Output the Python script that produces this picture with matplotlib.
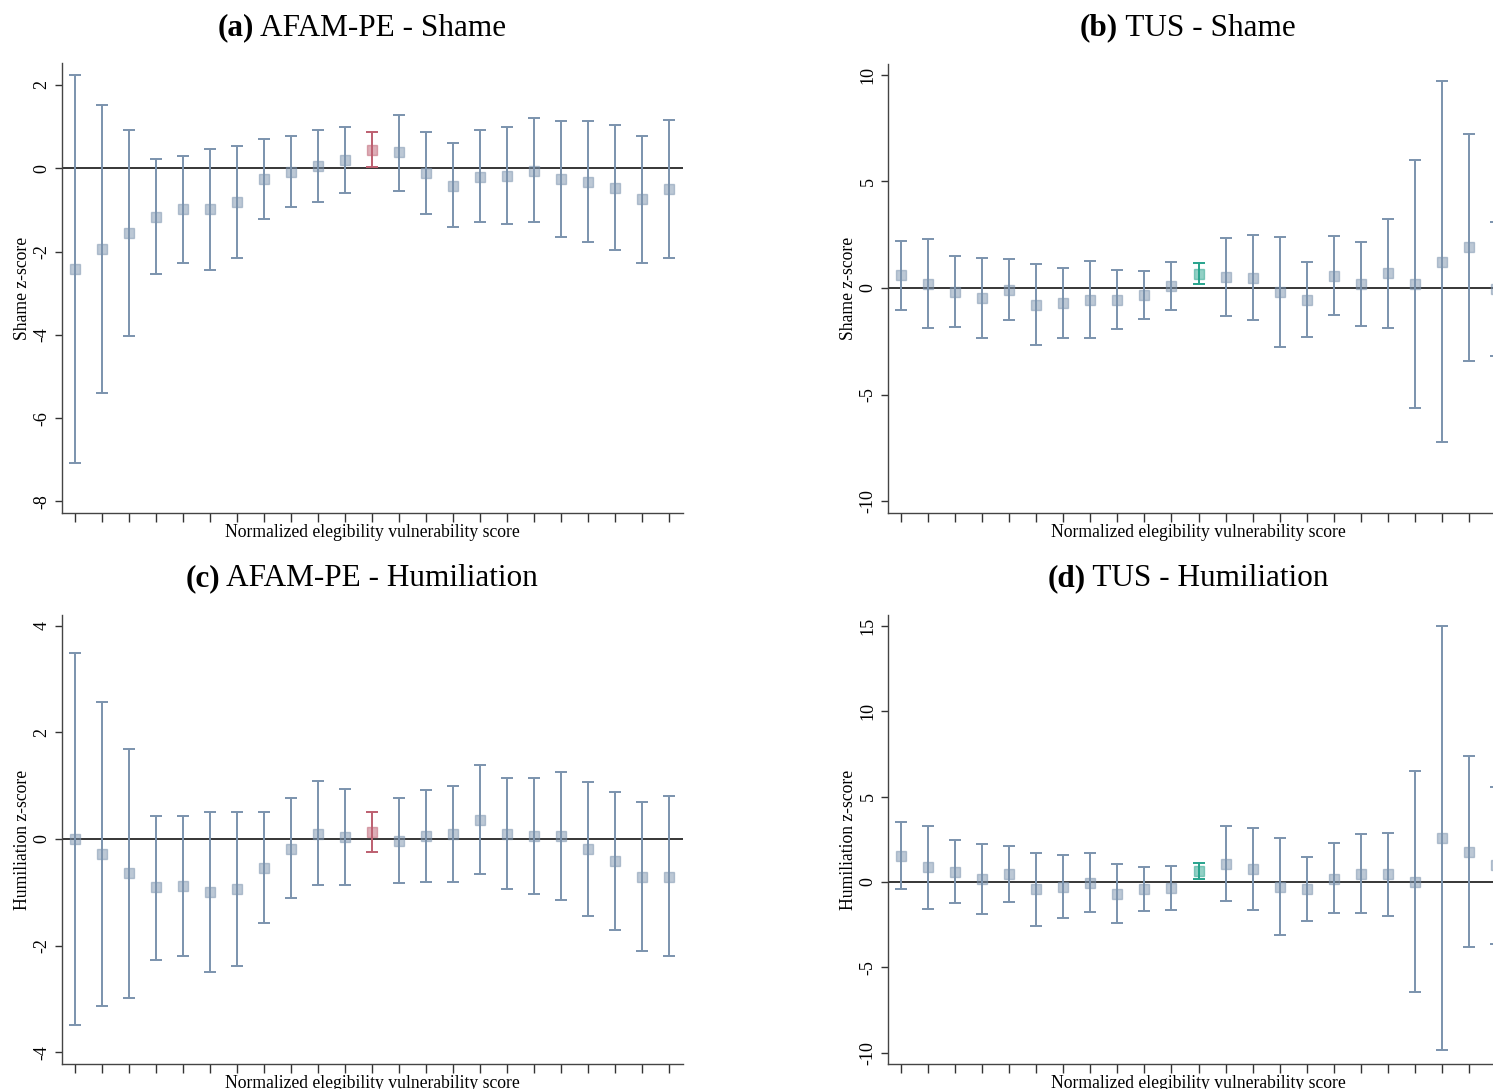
import numpy as np
import matplotlib
matplotlib.use("Agg")
from matplotlib import pyplot as plt

plt.rcParams['font.family'] = ['Liberation Serif', 'DejaVu Serif']

# bins of the normalized eligibility vulnerability score
bins = np.arange(1, 24)
ref_bin = 12  # bin with the reference estimate

# AFAM-PE - shame
afam_shame = [-2.41, -1.94, -1.55, -1.17, -0.99, -0.99, -0.81, -0.26, -0.09, 0.06, 0.20, 0.45,
              0.38, -0.11, -0.42, -0.20, -0.18, -0.06, -0.26, -0.33, -0.47, -0.75, -0.51]
afam_shame_lo = [-7.08, -5.40, -4.02, -2.55, -2.27, -2.44, -2.16, -1.22, -0.94, -0.82, -0.59, 0.04,
                 -0.54, -1.09, -1.42, -1.30, -1.35, -1.30, -1.64, -1.77, -1.96, -2.28, -2.16]
afam_shame_hi = [2.25, 1.52, 0.92, 0.22, 0.30, 0.46, 0.54, 0.71, 0.78, 0.93, 0.99, 0.86,
                 1.29, 0.86, 0.60, 0.91, 1.00, 1.21, 1.13, 1.13, 1.03, 0.78, 1.17]

# TUS - shame
tus_shame = [0.61, 0.20, -0.19, -0.47, -0.09, -0.78, -0.70, -0.56, -0.55, -0.31, 0.11, 0.66,
             0.52, 0.48, -0.19, -0.55, 0.58, 0.19, 0.69, 0.19, 1.23, 1.91, -0.05]
tus_shame_lo = [-1.02, -1.88, -1.84, -2.36, -1.48, -2.67, -2.36, -2.36, -1.92, -1.45, -1.03, 0.17,
                -1.30, -1.50, -2.75, -2.30, -1.27, -1.78, -1.89, -5.63, -7.23, -3.42, -3.20]
tus_shame_hi = [2.22, 2.30, 1.52, 1.42, 1.34, 1.13, 0.95, 1.25, 0.86, 0.81, 1.23, 1.19,
                2.36, 2.50, 2.38, 1.20, 2.45, 2.17, 3.25, 6.00, 9.72, 7.22, 3.09]

# AFAM-PE - humiliation
afam_hum = [0.00, -0.28, -0.64, -0.91, -0.88, -0.99, -0.94, -0.54, -0.18, 0.10, 0.04, 0.14,
            -0.04, 0.05, 0.09, 0.36, 0.10, 0.05, 0.06, -0.19, -0.42, -0.71, -0.71]
afam_hum_lo = [-3.49, -3.14, -2.99, -2.27, -2.19, -2.49, -2.39, -1.58, -1.11, -0.87, -0.87, -0.24,
               -0.82, -0.81, -0.81, -0.66, -0.94, -1.04, -1.15, -1.45, -1.71, -2.11, -2.19]
afam_hum_hi = [3.49, 2.57, 1.69, 0.44, 0.44, 0.51, 0.51, 0.51, 0.76, 1.08, 0.94, 0.51,
               0.76, 0.91, 1.00, 1.38, 1.15, 1.14, 1.26, 1.07, 0.88, 0.70, 0.80]

# TUS - humiliation
tus_hum = [1.54, 0.88, 0.59, 0.20, 0.49, -0.41, -0.27, -0.06, -0.68, -0.41, -0.35, 0.66,
           1.05, 0.76, -0.29, -0.39, 0.20, 0.47, 0.47, 0.00, 2.58, 1.78, 0.98]
tus_hum_lo = [-0.39, -1.56, -1.25, -1.88, -1.17, -2.58, -2.13, -1.76, -2.40, -1.68, -1.64, 0.20,
              -1.09, -1.62, -3.11, -2.27, -1.82, -1.82, -1.97, -6.43, -9.86, -3.83, -3.65]
tus_hum_hi = [3.50, 3.30, 2.44, 2.23, 2.09, 1.72, 1.58, 1.72, 1.05, 0.90, 0.94, 1.11,
              3.26, 3.14, 2.60, 1.48, 2.27, 2.79, 2.89, 6.50, 15.02, 7.40, 5.59]

W, H = 1493, 1089
fig = plt.figure(figsize=(W / 100, H / 100), dpi=100)

BLUE = '#7b93ad'
RED = '#bd5f70'
GREEN = '#27a38c'


def px_axes(left, top, right, bottom):
    return fig.add_axes([left / W, 1 - bottom / H, (right - left) / W, (bottom - top) / H])


def coefplot(ax, est, lo, hi, hl_color, ylim, yticks, ylabel):
    est, lo, hi = map(np.asarray, (est, lo, hi))
    for i, x in enumerate(bins):
        c = hl_color if x == ref_bin else BLUE
        ax.errorbar(x, est[i], yerr=[[est[i] - lo[i]], [hi[i] - est[i]]],
                    fmt='none', ecolor=c, elinewidth=1.4, capsize=4.5, capthick=1.4, zorder=2)
        ax.plot(x, est[i], 's', ms=7.5, mfc=c, mec=c, alpha=0.5, mew=1.0, zorder=3)
    ax.axhline(0, color='black', lw=1.1, zorder=1)
    ax.set_xlim(0.5, 23.5)
    ax.set_ylim(*ylim)
    ax.set_xticks(bins)
    ax.set_xticklabels([])
    ax.set_yticks(yticks)
    ax.set_yticklabels([str(t) for t in yticks], rotation=90, va='center', fontsize=13)
    ax.tick_params(axis='x', length=6.5, width=1, color='#333333', direction='out')
    ax.tick_params(axis='y', length=5, width=1, color='#333333', direction='out', pad=3)
    for s in ('top', 'right'):
        ax.spines[s].set_visible(False)
    for s in ('left', 'bottom'):
        ax.spines[s].set_color('#444444')
        ax.spines[s].set_linewidth(1.0)
    ax.set_xlabel('Normalized elegibility vulnerability score', fontsize=12.7, labelpad=-2.2)
    ax.set_ylabel(ylabel, fontsize=12.7, labelpad=2)


ax_a = px_axes(61.6, 63.3, 683, 512.7)
coefplot(ax_a, afam_shame, afam_shame_lo, afam_shame_hi, RED,
         (-8.27, 2.52), [-8, -6, -4, -2, 0, 2], 'Shame z-score')

ax_b = px_axes(887.5, 64, 1509.5, 512.7)
coefplot(ax_b, tus_shame, tus_shame_lo, tus_shame_hi, GREEN,
         (-10.53, 10.5), [-10, -5, 0, 5, 10], 'Shame z-score')

ax_c = px_axes(61.6, 615, 683, 1064)
coefplot(ax_c, afam_hum, afam_hum_lo, afam_hum_hi, RED,
         (-4.22, 4.2), [-4, -2, 0, 2, 4], 'Humiliation z-score')

ax_d = px_axes(887.5, 615, 1509.5, 1064)
coefplot(ax_d, tus_hum, tus_hum_lo, tus_hum_hi, GREEN,
         (-10.66, 15.64), [-10, -5, 0, 5, 10, 15], 'Humiliation z-score')

# panel titles: bold letter followed by regular text, centred as a unit
titles = [('(a)', 'AFAM-PE - Shame', 362, 28),
          ('(b)', 'TUS - Shame', 1188, 28),
          ('(c)', 'AFAM-PE - Humiliation', 362, 579),
          ('(d)', 'TUS - Humiliation', 1188, 579)]
renderer = fig.canvas.get_renderer()
for tag, rest, cx, cy in titles:
    t1 = fig.text(0, 1 - cy / H, tag, fontsize=22.5, fontweight='bold', va='center', ha='left')
    t2 = fig.text(0, 1 - cy / H, ' ' + rest, fontsize=22.5, va='center', ha='left')
    w1 = t1.get_window_extent(renderer).width
    w2 = t2.get_window_extent(renderer).width
    x0 = cx - (w1 + w2) / 2
    t1.set_x(x0 / W)
    t2.set_x((x0 + w1) / W)

fig.savefig('out.png', dpi=100)
